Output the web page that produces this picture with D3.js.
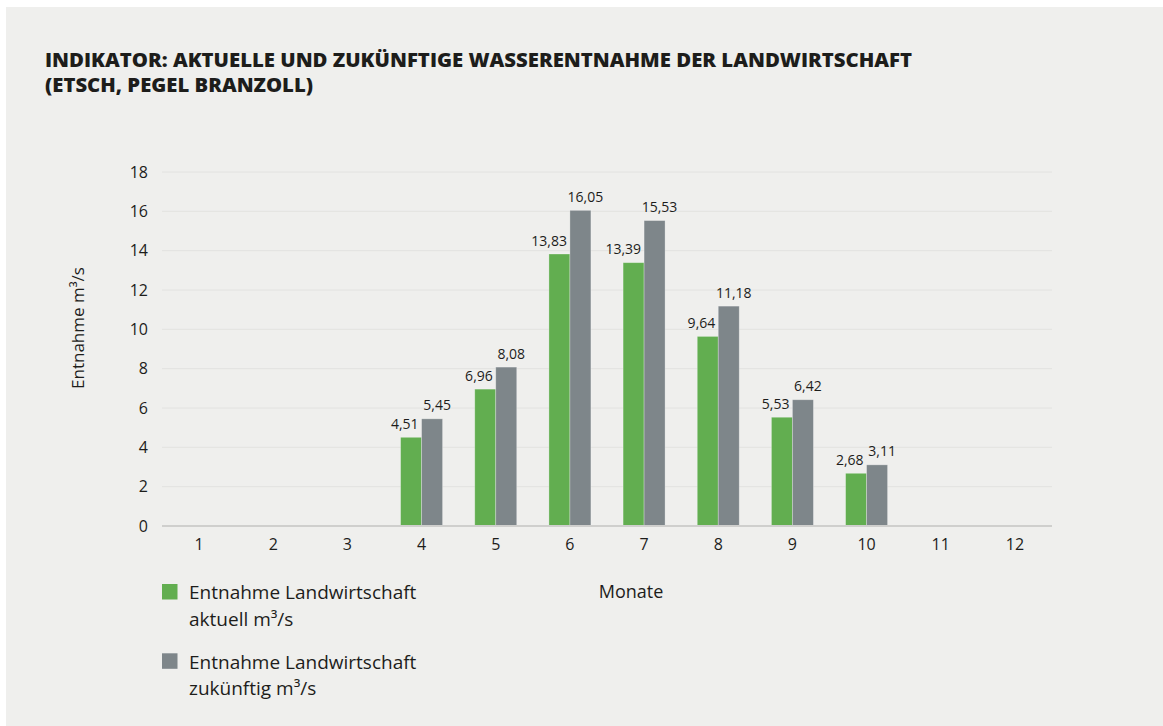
<!DOCTYPE html>
<html lang="de">
<head>
<meta charset="utf-8">
<title>Wasserentnahme der Landwirtschaft</title>
<script src="https://cdn.jsdelivr.net/npm/d3@7"></script>
<style>
  html, body { margin: 0; padding: 0; background: #ffffff; }
  svg { display: block; }
  text { font-family: "Open Sans", "Noto Sans", sans-serif; fill: #1d1d1b; }
</style>
</head>
<body>
<svg id="chart" width="1163" height="726"></svg>
<script>
// Monate 1–12, Entnahme in m³/s (null = keine Entnahme)
const months = ["1", "2", "3", "4", "5", "6", "7", "8", "9", "10", "11", "12"];
const current = [null, null, null, 4.51, 6.96, 13.83, 13.39, 9.64, 5.53, 2.68, null, null];
const future  = [null, null, null, 5.45, 8.08, 16.05, 15.53, 11.18, 6.42, 3.11, null, null];
const seriesNames = ["Entnahme Landwirtschaft aktuell m³/s", "Entnahme Landwirtschaft zukünftig m³/s"];
const yTicks = [0, 2, 4, 6, 8, 10, 12, 14, 16, 18];
const titleLines = ["INDIKATOR: AKTUELLE UND ZUKÜNFTIGE WASSERENTNAHME DER LANDWIRTSCHAFT", "(ETSCH, PEGEL BRANZOLL)"];

const colors = ["#62ae50", "#7e868a"];
const de = d3.formatLocale({ decimal: ",", thousands: ".", grouping: [3], currency: ["", " €"] });
const fmt = de.format(".2f");

const svg = d3.select("#chart");

// Hintergrundfläche
svg.append("rect").attr("x", 6).attr("y", 7).attr("width", 1157).attr("height", 719).attr("fill", "#efefed");

// Titel
svg.append("text").attr("x", 45).attr("y", 67)
  .attr("font-size", 19.5).attr("font-weight", 800)
  .attr("textLength", 867).attr("lengthAdjust", "spacingAndGlyphs")
  .text(titleLines[0]);
svg.append("text").attr("x", 45).attr("y", 92)
  .attr("font-size", 19.5).attr("font-weight", 800)
  .attr("textLength", 268).attr("lengthAdjust", "spacingAndGlyphs")
  .text(titleLines[1]);

const plot = { left: 162, right: 1052, top: 172, bottom: 526 };

const x0 = d3.scaleBand().domain(months).range([plot.left, plot.right])
  .paddingInner(0.434).paddingOuter(0.217);
const x1 = d3.scaleBand().domain([0, 1]).range([0, x0.bandwidth()]);
const y = d3.scaleLinear().domain([0, 18]).range([plot.bottom, plot.top]);

// Gitterlinien
svg.append("g").selectAll("line").data(yTicks.filter(t => t > 0)).join("line")
  .attr("x1", plot.left).attr("x2", plot.right)
  .attr("y1", d => y(d)).attr("y2", d => y(d))
  .attr("stroke", "#e2e2e0").attr("stroke-width", 1);

// Y-Achse (nur Beschriftung)
const yAxis = svg.append("g").attr("transform", `translate(${plot.left},0)`)
  .call(d3.axisLeft(y).tickValues(yTicks).tickSize(0).tickPadding(14).tickFormat(d3.format("d")));
yAxis.select(".domain").remove();
yAxis.selectAll("text").attr("font-size", 16).attr("font-family", null).attr("fill", "#1d1d1b");

// Balken
const rows = months.map((m, i) => ({ month: m, values: [current[i], future[i]] }));
const groups = svg.append("g").selectAll("g").data(rows).join("g")
  .attr("transform", d => `translate(${x0(d.month)},0)`);

groups.selectAll("rect")
  .data(d => d.values.map((v, k) => ({ k, v })).filter(e => e.v != null))
  .join("rect")
  .attr("x", d => x1(d.k))
  .attr("width", x1.bandwidth())
  .attr("y", d => y(d.v))
  .attr("height", d => y(0) - y(d.v))
  .attr("fill", d => colors[d.k])
  .attr("stroke", "rgba(255,255,255,0.35)").attr("stroke-width", 0.8);

// Wertbeschriftungen
groups.selectAll("text.val")
  .data(d => d.values.map((v, k) => ({ k, v })).filter(e => e.v != null))
  .join("text").attr("class", "val")
  .attr("x", d => d.k === 0 ? x1(d.k) + x1.bandwidth() - 3 : x1(d.k) + x1.bandwidth() / 2 + 5)
  .attr("y", d => y(d.v) - 8.5)
  .attr("text-anchor", d => d.k === 0 ? "end" : "middle")
  .attr("font-size", 14)
  .text(d => fmt(d.v));

// X-Achse
svg.append("line").attr("x1", plot.left).attr("x2", plot.right)
  .attr("y1", y(0)).attr("y2", y(0))
  .attr("stroke", "#cfcfcd").attr("stroke-width", 2);
const xAxis = svg.append("g").attr("transform", `translate(0,${plot.bottom})`)
  .call(d3.axisBottom(x0).tickSize(0).tickPadding(13));
xAxis.select(".domain").remove();
xAxis.selectAll("text").attr("font-size", 16).attr("font-family", null).attr("fill", "#1d1d1b");

// Achsentitel
svg.append("text").attr("transform", "translate(84,328) rotate(-90)")
  .attr("text-anchor", "middle").attr("font-size", 17).text("Entnahme m³/s");
svg.append("text").attr("x", 631).attr("y", 598)
  .attr("text-anchor", "middle").attr("font-size", 18).text("Monate");

// Legende
const legend = svg.append("g").selectAll("g").data(seriesNames).join("g")
  .attr("transform", (d, i) => `translate(162,${584 + i * 69.3})`);
legend.append("rect").attr("width", 15.5).attr("height", 15.5).attr("fill", (d, i) => colors[i]);
legend.each(function (d) {
  const words = d.split(" ");
  const t = d3.select(this).append("text").attr("x", 27).attr("y", 15.3).attr("font-size", 19);
  t.append("tspan").attr("x", 27).attr("dy", 0).text(words.slice(0, 2).join(" "));
  t.append("tspan").attr("x", 27).attr("dy", 26.7).text(words.slice(2).join(" "));
});
</script>
</body>
</html>
